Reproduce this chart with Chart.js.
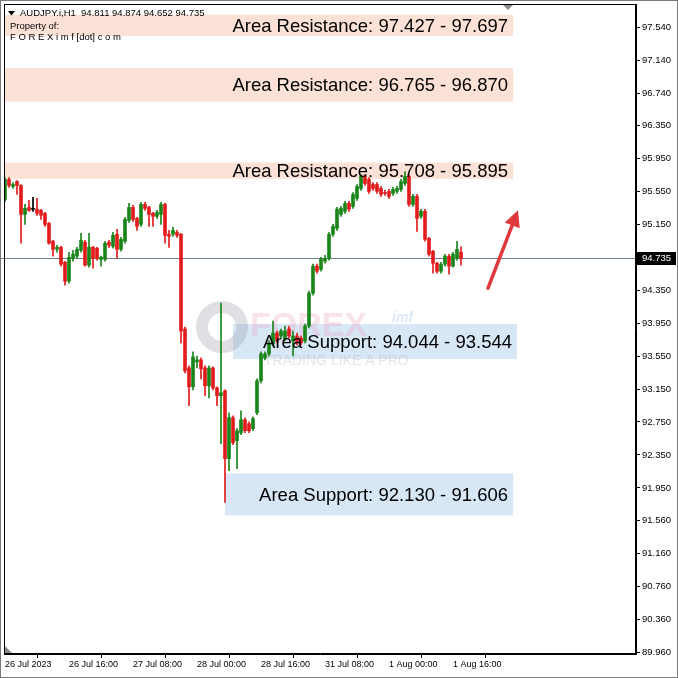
<!DOCTYPE html>
<html>
<head>
<meta charset="utf-8">
<script src="https://cdn.jsdelivr.net/npm/chart.js@4.4.0/dist/chart.umd.min.js"></script>
<style>
html,body{margin:0;padding:0;background:#fff;}
#wrap{width:678px;height:678px;position:relative;}
canvas{display:block;}
</style>
</head>
<body>
<div id="wrap"><canvas id="c" width="678" height="678"></canvas></div>
<script>
// ---------- DATA ----------
const symbolHeader = "AUDJPY.i,H1  94.811 94.874 94.652 94.735";
const propertyLines = ["Property of:", "F O R E X i m f [dot] c o m"];

const opens = [95.450,95.692,95.607,95.667,95.619,95.268,95.353,95.329,95.331,95.317,
95.281,95.160,94.942,94.845,94.869,94.688,94.458,94.736,94.761,94.833,
94.930,94.652,94.869,94.857,94.724,94.724,94.930,94.881,95.027,94.845,
94.942,95.196,95.353,95.220,95.147,95.389,95.353,95.281,95.244,95.268,
95.389,95.027,95.027,95.051,95.027,93.878,93.406,93.177,93.479,93.503,
93.406,93.189,93.406,93.164,93.068,93.128,92.306,92.802,92.524,92.620,
92.777,92.729,92.669,92.862,93.249,93.527,93.576,93.696,93.829,93.793,
93.757,93.878,93.733,93.793,93.769,93.733,93.914,94.313,94.640,94.603,
94.700,94.736,95.027,95.099,95.268,95.305,95.401,95.365,95.462,95.583,
95.728,95.692,95.631,95.631,95.583,95.535,95.547,95.522,95.547,95.571,
95.643,95.728,95.389,95.486,95.244,95.305,94.978,94.821,94.676,94.579,
94.664,94.761,94.640,94.736,94.811];

const highs = [95.716,95.716,95.655,95.679,95.631,95.389,95.438,95.474,95.462,95.329,
95.293,95.172,94.954,94.894,94.881,94.700,94.809,94.833,94.869,95.039,
94.954,95.039,94.881,94.869,94.761,94.942,94.954,95.051,95.087,94.990,
95.232,95.401,95.377,95.232,95.413,95.413,95.365,95.293,95.317,95.413,
95.401,95.075,95.111,95.075,95.039,93.902,93.430,93.600,93.551,93.527,
93.430,93.430,93.418,93.177,94.192,93.140,92.862,92.826,92.669,92.886,
92.802,92.753,92.814,93.273,93.600,93.600,93.733,93.975,93.854,93.878,
93.914,93.914,93.854,93.829,93.793,93.938,94.337,94.664,94.664,94.748,
94.773,95.051,95.147,95.353,95.365,95.426,95.426,95.534,95.631,95.752,
95.752,95.716,95.655,95.655,95.607,95.559,95.571,95.595,95.607,95.692,
95.788,95.752,95.510,95.510,95.329,95.329,94.990,94.833,94.688,94.688,
94.785,94.785,94.809,94.942,94.874];

const lows = [95.426,95.595,95.583,95.510,94.918,95.147,95.305,95.305,95.256,95.208,
95.123,94.906,94.761,94.809,94.640,94.410,94.434,94.700,94.736,94.809,
94.640,94.628,94.615,94.712,94.640,94.700,94.869,94.857,94.736,94.821,
94.918,95.172,95.184,95.075,95.123,95.317,95.123,95.123,95.220,95.147,
94.918,94.869,95.002,94.990,93.709,93.346,92.947,93.140,93.406,93.273,
93.068,93.043,93.140,92.947,92.487,91.774,92.161,92.475,92.185,92.596,
92.620,92.620,92.644,92.838,93.225,93.503,93.551,93.672,93.709,93.769,
93.733,93.769,93.551,93.684,93.684,93.709,93.890,94.289,94.555,94.579,
94.676,94.712,95.002,95.075,95.244,95.281,95.305,95.341,95.438,95.559,
95.619,95.522,95.559,95.522,95.486,95.498,95.462,95.498,95.522,95.547,
95.619,95.365,95.365,95.063,95.220,94.942,94.761,94.555,94.555,94.555,
94.640,94.543,94.628,94.712,94.652];

const closes = [95.692,95.619,95.631,95.619,95.268,95.341,95.317,95.329,95.281,95.256,
95.147,94.918,94.845,94.869,94.664,94.458,94.748,94.785,94.845,94.954,
94.652,94.869,94.736,94.736,94.748,94.918,94.894,95.014,94.845,94.966,
95.208,95.353,95.208,95.123,95.389,95.341,95.268,95.244,95.293,95.389,
95.014,95.002,95.075,95.014,93.854,93.370,93.177,93.540,93.503,93.394,
93.189,93.406,93.164,93.068,93.104,92.306,92.802,92.499,92.644,92.777,
92.644,92.644,92.790,93.249,93.576,93.576,93.709,93.829,93.733,93.854,
93.854,93.793,93.793,93.709,93.709,93.914,94.313,94.640,94.579,94.724,
94.736,95.027,95.123,95.331,95.341,95.401,95.331,95.510,95.607,95.728,
95.643,95.547,95.583,95.547,95.510,95.522,95.486,95.571,95.583,95.667,
95.728,95.389,95.486,95.220,95.305,94.966,94.785,94.676,94.579,94.664,
94.761,94.640,94.785,94.845,94.735];

const lastPrice = 94.735;

// x tick positions (bar index) and labels
const xTickIndex  = [0, 16, 32, 48, 64, 80, 96, 112];
const xTickLabels = ["26 Jul 2023","26 Jul 16:00","27 Jul 08:00","28 Jul 00:00","28 Jul 16:00","31 Jul 08:00","1 Aug 00:00","1 Aug 16:00"];

// y tick values (price scale)
const yTicks = [97.540,97.140,96.740,96.350,95.950,95.550,95.150,94.350,93.950,93.550,93.150,92.750,92.350,91.950,91.560,91.160,90.760,90.360,89.960];
const yMin = 89.936, yMax = 97.82;
const xMin = -0.25, xMax = 157.75;

// zones
const zoneLabels = ["Area Resistance: 97.427 - 97.697","Area Resistance: 96.765 - 96.870","Area Resistance: 95.708 - 95.895","Area Support: 94.044 - 93.544","Area Support: 92.130 - 91.606"];
const zoneTop    = [97.690, 97.046, 95.897, 93.938, 92.125];
const zoneBottom = [97.430, 96.636, 95.700, 93.515, 91.617];
const zoneStart  = [-1, -1, -1, 57, 55];
const zoneEnd    = [127, 127, 127, 128, 127];
const zoneKind   = ["res","res","res","sup","sup"];

// arrow [index, price] -> [index, price]
const arrowFrom = [120.75, 94.374];
const arrowTo   = [128.25, 95.317];

// ---------- CHART ----------
const GREEN = '#1a861a', RED = '#e21c1c', BLACK = '#000000';
function candleColor(i){
  const o = opens[i], c = closes[i];
  return c > o ? GREEN : (c < o ? RED : BLACK);
}
const wickData = opens.map((o,i)=>({x:i, y:[lows[i], highs[i]]}));
const bodyData = opens.map((o,i)=>({x:i, y:[o, closes[i]]}));

const FONT = '"Liberation Sans", Arial, sans-serif';

const decorPlugin = {
  id: 'decor',
  beforeDraw(chart){
    const ctx = chart.ctx;
    ctx.save();
    ctx.fillStyle = '#ffffff';
    ctx.fillRect(0,0,chart.width,chart.height);
    ctx.restore();
  },
  beforeDatasetsDraw(chart){
    const {ctx, chartArea:a, scales:{x,y}} = chart;
    ctx.save();
    ctx.beginPath(); ctx.rect(a.left, a.top, a.right-a.left, a.bottom-a.top); ctx.clip();
    // zones
    for (let k=0;k<zoneTop.length;k++){
      const x1 = x.getPixelForValue(zoneStart[k]), x2 = x.getPixelForValue(zoneEnd[k]);
      const y1 = y.getPixelForValue(zoneTop[k]), y2 = y.getPixelForValue(zoneBottom[k]);
      ctx.fillStyle = zoneKind[k]==='res' ? '#fbe1d6' : '#d7e7f6';
      ctx.fillRect(x1, y1, x2-x1, y2-y1);
    }
    // watermark (logo)
    ctx.lineWidth = 12;
    ctx.strokeStyle = 'rgba(150,150,165,0.30)';
    ctx.beginPath(); ctx.arc(222, 327, 20, 0, Math.PI*2); ctx.stroke();
    ctx.fillStyle = 'rgba(240,160,190,0.30)';
    ctx.font = 'bold 34px ' + FONT;
    ctx.textBaseline = 'middle';
    ctx.textAlign = 'left';
    ctx.fillText('FOREX', 250, 327);
    ctx.fillStyle = 'rgba(150,190,235,0.35)';
    ctx.font = 'italic bold 14px ' + FONT;
    ctx.fillText('imf', 392, 318);
    ctx.fillStyle = 'rgba(160,160,175,0.28)';
    ctx.font = '14px ' + FONT;
    ctx.fillText('TRADING LIKE A PRO', 264, 361);
    ctx.restore();

    // current price line
    ctx.save();
    const py = Math.round(y.getPixelForValue(lastPrice)) + 0.5;
    ctx.strokeStyle = '#6d7d8d';
    ctx.lineWidth = 1;
    ctx.beginPath(); ctx.moveTo(0, py); ctx.lineTo(a.right, py); ctx.stroke();
    ctx.restore();
  },
  afterDatasetsDraw(chart){
    const {ctx, chartArea:a, scales:{x,y}} = chart;
    ctx.save();
    // zone labels
    ctx.font = '18.5px ' + FONT;
    ctx.fillStyle = '#000';
    ctx.textAlign = 'right';
    ctx.textBaseline = 'middle';
    for (let k=0;k<zoneTop.length;k++){
      const x2 = x.getPixelForValue(zoneEnd[k]);
      const yc = (y.getPixelForValue(zoneTop[k]) + y.getPixelForValue(zoneBottom[k]))/2;
      ctx.fillText(zoneLabels[k], x2 - 5, yc + 1);
    }
    // arrow
    const ax1 = x.getPixelForValue(arrowFrom[0]), ay1 = y.getPixelForValue(arrowFrom[1]);
    const ax2 = x.getPixelForValue(arrowTo[0]),   ay2 = y.getPixelForValue(arrowTo[1]);
    const ang = Math.atan2(ay2-ay1, ax2-ax1);
    const hl = 16, hw = 8;
    const bx = ax2 - hl*Math.cos(ang), by = ay2 - hl*Math.sin(ang);
    ctx.strokeStyle = '#e0393d';
    ctx.fillStyle = '#e0393d';
    ctx.lineWidth = 3.5;
    ctx.lineCap = 'round';
    ctx.beginPath(); ctx.moveTo(ax1, ay1); ctx.lineTo(bx + 3*Math.cos(ang), by + 3*Math.sin(ang)); ctx.stroke();
    ctx.beginPath();
    ctx.moveTo(ax2, ay2);
    ctx.lineTo(bx + hw*Math.sin(ang), by - hw*Math.cos(ang));
    ctx.lineTo(bx - hw*Math.sin(ang), by + hw*Math.cos(ang));
    ctx.closePath(); ctx.fill();
    ctx.restore();

    // header text
    ctx.save();
    ctx.fillStyle = '#000';
    ctx.textAlign = 'left';
    ctx.textBaseline = 'middle';
    ctx.beginPath(); ctx.moveTo(8,11); ctx.lineTo(15,11); ctx.lineTo(11.5,15.5); ctx.closePath(); ctx.fill();
    ctx.font = '9.5px ' + FONT;
    ctx.fillText(symbolHeader, 20, 13);
    ctx.fillText(propertyLines[0], 10, 26);
    ctx.fillText(propertyLines[1], 10, 37);
    ctx.restore();

    // small grey triangles
    ctx.save();
    ctx.fillStyle = '#8a8a8a';
    ctx.beginPath(); ctx.moveTo(503, a.top+1); ctx.lineTo(513, a.top+1); ctx.lineTo(508, a.top+6); ctx.closePath(); ctx.fill();
    ctx.beginPath(); ctx.moveTo(a.left+1, a.bottom-8); ctx.lineTo(a.left+1, a.bottom-1); ctx.lineTo(a.left+8, a.bottom-1); ctx.closePath(); ctx.fill();
    ctx.restore();
  },
  afterDraw(chart){
    const {ctx, chartArea:a, scales:{y}} = chart;
    ctx.save();
    ctx.strokeStyle = '#000';
    ctx.lineWidth = 1;
    ctx.strokeRect(a.left+0.5, a.top+0.5, a.right-a.left-1, a.bottom-a.top-1);
    const py = Math.round(y.getPixelForValue(lastPrice));
    ctx.fillStyle = '#000';
    ctx.fillRect(a.right+1, py-6, 39, 13);
    ctx.fillStyle = '#fff';
    ctx.font = '9.5px ' + FONT;
    ctx.textAlign = 'left';
    ctx.textBaseline = 'middle';
    ctx.fillText(lastPrice.toFixed(3), a.right+6, py+0.5);
    ctx.strokeStyle = '#7a7a7a';
    ctx.strokeRect(0.5, 0.5, chart.width-1, chart.height-1);
    ctx.restore();
  }
};

new Chart(document.getElementById('c'), {
  type: 'bar',
  data: {
    datasets: [
      { label:'wick', data: wickData, barThickness: 1, minBarLength: 1,
        backgroundColor: ctx => candleColor(ctx.dataIndex), borderWidth: 0, grouped: false, order: 2 },
      { label:'body', data: bodyData, barThickness: 3, minBarLength: 1,
        backgroundColor: ctx => candleColor(ctx.dataIndex), borderWidth: 0, grouped: false, order: 1 }
    ]
  },
  options: {
    responsive: false,
    animation: false,
    events: [],
    layout: { padding: { left: 4, top: 4, right: 0, bottom: 0 } },
    plugins: { legend: { display: false }, tooltip: { enabled: false } },
    scales: {
      x: {
        type: 'linear', min: xMin, max: xMax, offset: false,
        afterBuildTicks: s => { s.ticks = xTickIndex.map(v => ({ value: v })); },
        afterFit: s => { s.height = 24; },
        grid: { drawOnChartArea: false, drawTicks: true, tickLength: 4, color: '#000' },
        border: { display: true, color: '#000' },
        ticks: {
          autoSkip: false, maxRotation: 0, minRotation: 0, align: 'start', padding: 1,
          color: '#000', font: { family: FONT, size: 9 },
          callback: (v) => { const k = xTickIndex.indexOf(v); return k >= 0 ? xTickLabels[k] : ''; }
        }
      },
      y: {
        type: 'linear', position: 'right', min: yMin, max: yMax,
        afterBuildTicks: s => { s.ticks = yTicks.map(v => ({ value: v })); },
        afterFit: s => { s.width = 42; s.paddingTop = 0; s.paddingBottom = 0; },
        grid: { drawOnChartArea: false, drawTicks: true, tickLength: 4, color: '#000' },
        border: { display: true, color: '#000' },
        ticks: {
          autoSkip: false, padding: 2, color: '#000', font: { family: FONT, size: 9.5, lineHeight: 0.5 },
          callback: v => Number(v).toFixed(3)
        }
      }
    }
  },
  plugins: [decorPlugin]
});
</script>
</body>
</html>
